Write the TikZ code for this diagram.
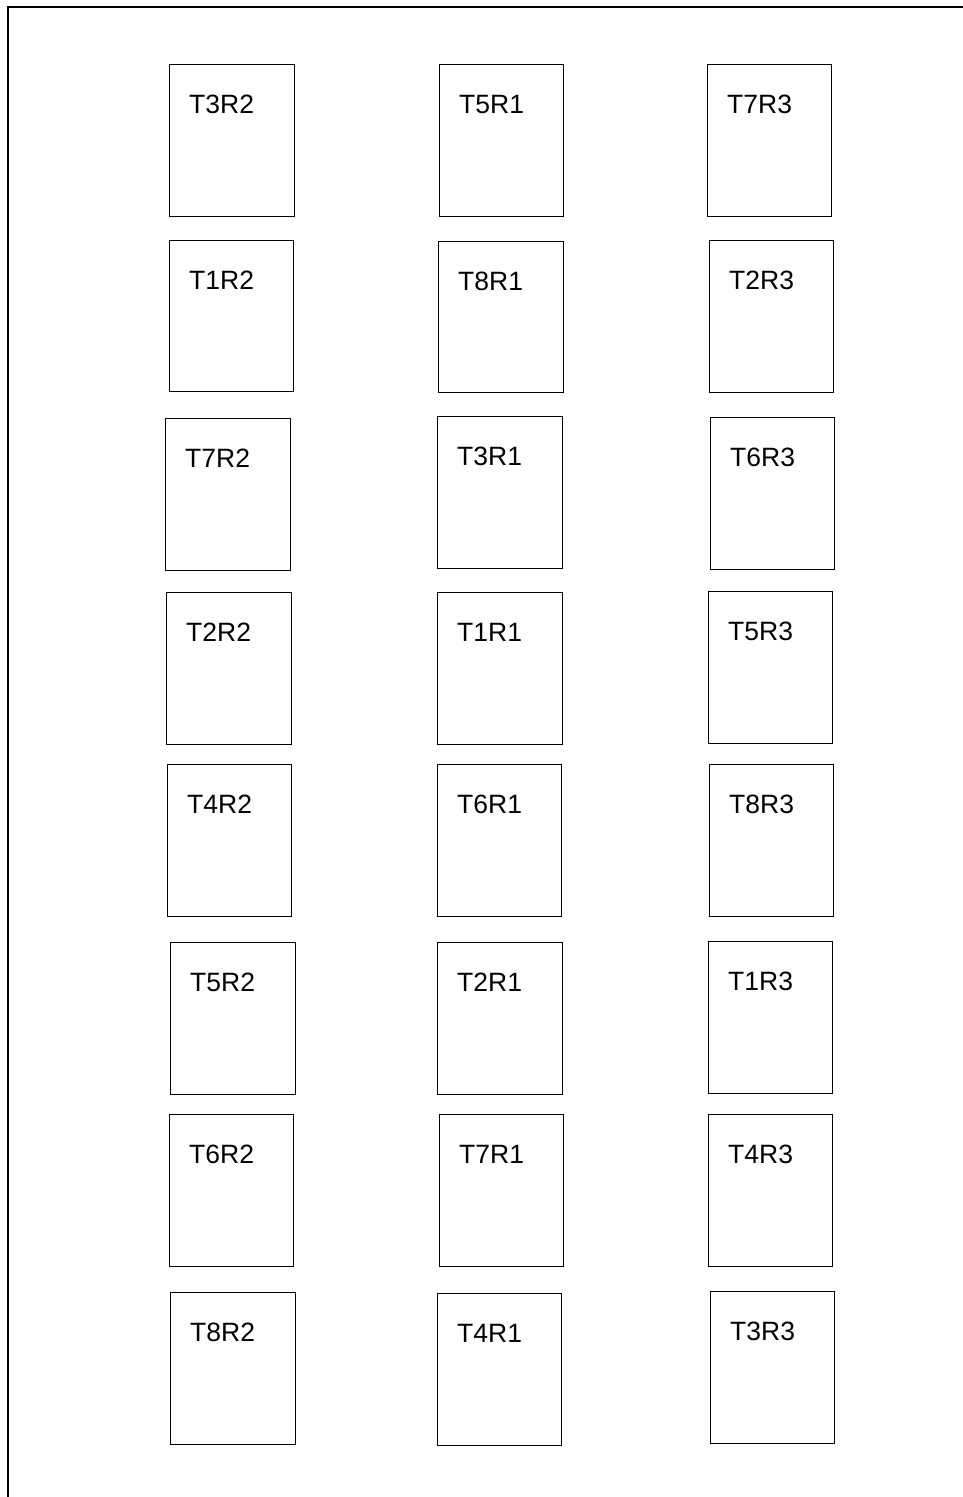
\documentclass[tikz,border=0pt]{standalone}
\usepackage{fontspec}
\setmainfont{Liberation Sans}
\begin{document}
\begin{tikzpicture}[x=1pt,y=-1pt,
  tbox/.style={draw, line width=1pt, rectangle, inner sep=0pt, outer sep=0pt},
  lbl/.style={anchor=base west, inner sep=0pt, label distance=0pt, xshift=20pt, yshift=-49pt, font=\fontsize{26.5}{30}\selectfont},
  frame/.style={line width=2pt}]
\useasboundingbox (0,0) rectangle (963,1497);
\coordinate (fTR) at (963,7);
\coordinate (fTL) at (8,7);
\coordinate (fBL) at (8,1497);
\draw[frame] (fTR) -- (fTL) -- (fBL);
\foreach \n/\xa/\ya/\xb/\yb/\t in {
  a1/169/64/294/216/T3R2, a2/169/240/293/391/T1R2, a3/165/418/290/570/T7R2, a4/166/592/291/744/T2R2,
  a5/167/764/291/916/T4R2, a6/170/942/295/1094/T5R2, a7/169/1114/293/1266/T6R2, a8/170/1292/295/1444/T8R2,
  b1/439/64/563/216/T5R1, b2/438/241/563/392/T8R1, b3/437/416/562/568/T3R1, b4/437/592/562/744/T1R1,
  b5/437/764/561/916/T6R1, b6/437/942/562/1094/T2R1, b7/439/1114/563/1266/T7R1, b8/437/1293/561/1445/T4R1,
  c1/707/64/831/216/T7R3, c2/709/240/833/392/T2R3, c3/710/417/834/569/T6R3, c4/708/591/832/743/T5R3,
  c5/709/764/833/916/T8R3, c6/708/941/832/1093/T1R3, c7/708/1114/832/1266/T4R3, c8/710/1291/834/1443/T3R3}
{
  \node[tbox, minimum width={(\xb-\xa)*1pt}, minimum height={(\yb-\ya)*1pt},
        label={[lbl]north west:\t}] (\n) at ({(\xa+\xb)/2},{(\ya+\yb)/2}) {};
}
\end{tikzpicture}
\end{document}
